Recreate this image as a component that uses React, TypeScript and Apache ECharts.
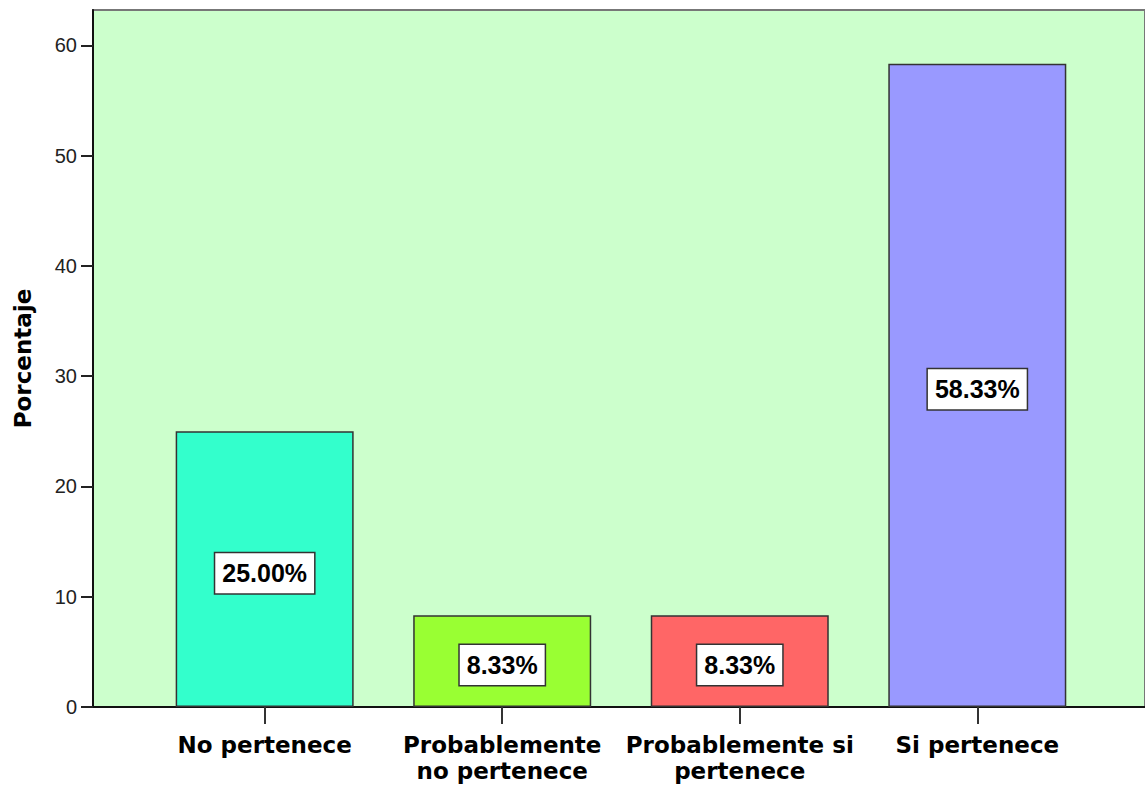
import React, { useEffect, useRef } from "react";
import * as echarts from "echarts";

const categories = ["No pertenece", "Probablemente\nno pertenece", "Probablemente si\npertenece", "Si pertenece"];
const values = [25.0, 8.33, 8.33, 58.33];
const barColors = ["#33ffcc", "#99ff33", "#ff6666", "#9999ff"];
const yTicks = [0, 10, 20, 30, 40, 50, 60];
const xTicks = [0, 1, 2, 3];

export default function App() {
  const ref = useRef<HTMLDivElement>(null);
  useEffect(() => {
    if (!ref.current) return;
    const chart = echarts.init(ref.current, null, { renderer: "svg" });
    const font = "'Liberation Sans', Arial, sans-serif";
    const wide = "'DejaVu Sans', sans-serif";
    chart.setOption({
      animation: false,
      backgroundColor: "#ffffff",
      textStyle: { fontFamily: font },
      grid: {
        show: true,
        left: 93,
        right: -2,
        top: 10,
        bottom: 80,
        backgroundColor: "#ccffcc",
        borderColor: "#777777",
        borderWidth: 2,
        containLabel: false,
      },
      xAxis: {
        type: "value",
        min: -0.7227,
        max: 3.706,
        splitLine: { show: false },
        axisLine: { show: true, onZero: false, lineStyle: { color: "#111", width: 2 } },
        axisTick: { show: true, customValues: xTicks, length: 17, lineStyle: { color: "#333", width: 2 } },
        axisLabel: {
          customValues: xTicks,
          formatter: (v: number) => categories[Math.round(v)] ?? "",
          color: "#000",
          fontSize: 23,
          fontWeight: "bold",
          fontFamily: wide,
          lineHeight: 26,
          margin: 25,
        },
      },
      yAxis: {
        type: "value",
        min: 0,
        max: 63.2,
        interval: 10,
        name: "Porcentaje",
        nameLocation: "middle",
        nameGap: 59,
        nameTextStyle: { fontSize: 23, fontWeight: "bold", color: "#000", fontFamily: wide },
        splitLine: { show: false },
        axisLine: { show: true, onZero: false, lineStyle: { color: "#111", width: 2 } },
        axisTick: { show: true, customValues: yTicks, length: 12, lineStyle: { color: "#222", width: 2 } },
        axisLabel: { customValues: yTicks, color: "#222", fontSize: 20, margin: 16, fontFamily: font },
      },
      series: [
        {
          type: "bar",
          barWidth: 178,
          data: values.map((v, i) => ({
            value: [xTicks[i], v],
            itemStyle: { color: barColors[i], borderColor: "#333", borderWidth: 1.5 },
          })),
          label: {
            show: true,
            position: "inside",
            offset: [0, 4],
            formatter: (p: any) => p.value[1].toFixed(2) + "%",
            color: "#000",
            fontSize: 25,
            fontWeight: "bold",
            fontFamily: font,
            backgroundColor: "#ffffff",
            borderColor: "#333",
            borderWidth: 1.5,
            padding: [8, 7, 7, 7],
          },
        },
      ],
    });
    return () => chart.dispose();
  }, []);
  return <div ref={ref} style={{ position: "fixed", left: 0, top: 0, width: 1145, height: 787 }} />;
}
